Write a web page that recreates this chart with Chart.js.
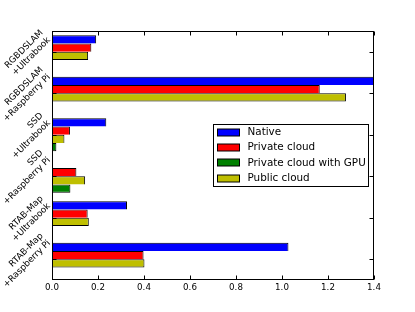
<!DOCTYPE html>
<html lang="en">
<head>
    <meta charset="UTF-8">
    <title>Runtime comparison</title>
    <style>
        body {
            margin: 0;
            background: #fff;
        }
        canvas {
            display: block;
        }
    </style>
    <script src="https://cdn.jsdelivr.net/npm/chart.js"></script>
</head>
<body>
    <canvas id="barChart" width="415" height="312"></canvas>

    <script>
        // Categories, top to bottom
        const categories = [
            ['RGBDSLAM', '+Ultrabook'],
            ['RGBDSLAM', '+Raspberry Pi'],
            ['SSD', '+Ultrabook'],
            ['SSD', '+Raspberry Pi'],
            ['RTAB-Map', '+Ultrabook'],
            ['RTAB-Map', '+Raspberry Pi']
        ];

        // Values (null = no bar)
        const nativeValues = [0.192, 1.45, 0.236, null, 0.326, 1.028];
        const privateValues = [0.171, 1.164, 0.078, 0.106, 0.155, 0.398];
        const publicValues = [0.157, 1.278, 0.054, 0.144, 0.16, 0.402];
        const gpuValues = [null, null, 0.019, 0.08, null, null];

        const xTicks = [0, 0.2, 0.4, 0.6, 0.8, 1.0, 1.2, 1.4];

        // bars are stacked in this order inside each group, legend uses another order
        const seriesNames = ['Native', 'Private cloud', 'Public cloud', 'Private cloud with GPU'];
        const seriesColors = ['#0000ff', '#ff0000', '#bfbf00', '#008000'];
        const seriesValues = [nativeValues, privateValues, publicValues, gpuValues];
        const legendOrder = ['Native', 'Private cloud', 'Private cloud with GPU', 'Public cloud'];

        const TICK_SIZE = 8.7;
        const YLABEL_SIZE = 8.8;
        const LEGEND_FONT = '10.4px "DejaVu Sans"';

        // only draw a bottom edge when nothing sits right under the bar
        function borderFor(ctx) {
            const next = seriesValues[ctx.datasetIndex + 1];
            const open = !next || next[ctx.dataIndex] === null;
            return { top: 1, left: 1, right: 1, bottom: open ? 1 : 0 };
        }

        const datasets = seriesNames.map((name, i) => ({
            label: name,
            data: seriesValues[i],
            backgroundColor: seriesColors[i],
            borderColor: '#000',
            borderWidth: borderFor,
            borderSkipped: false,
            barPercentage: 1.0,
            categoryPercentage: 0.8
        }));

        // frame + inward ticks like matplotlib
        const framePlugin = {
            id: 'frame',
            afterDatasetsDraw(chart) {
                const ctx = chart.ctx;
                const a = chart.chartArea;
                const xs = chart.scales.x;
                const ys = chart.scales.y;
                const L = Math.round(a.left) + 0.5, R = Math.round(a.right) - 0.5;
                const T = Math.round(a.top) + 0.5, B = Math.round(a.bottom) - 0.5;
                ctx.save();
                ctx.strokeStyle = '#000';
                ctx.lineWidth = 1;
                ctx.beginPath();
                xTicks.forEach(v => {
                    const x = Math.round(xs.getPixelForValue(v)) + 0.5;
                    ctx.moveTo(x, T); ctx.lineTo(x, T + 4);
                    ctx.moveTo(x, B); ctx.lineTo(x, B - 4);
                });
                categories.forEach((c, i) => {
                    const y = Math.round(ys.getPixelForTick(i)) + 0.5;
                    ctx.moveTo(L, y); ctx.lineTo(L + 4, y);
                    ctx.moveTo(R, y); ctx.lineTo(R - 4, y);
                });
                ctx.stroke();
                ctx.strokeRect(L, T, R - L, B - T);
                ctx.restore();
            }
        };

        // rotated two-line category labels: text block is rotated 45deg, then its
        // bounding box is put right against the axis and centred on the tick
        const yLabelPlugin = {
            id: 'yLabels',
            afterDraw(chart) {
                const ctx = chart.ctx;
                const a = chart.chartArea;
                const ys = chart.scales.y;
                const asc = 0.76 * YLABEL_SIZE, desc = 0.22 * YLABEL_SIZE, pitch = 10.3;
                const c = Math.SQRT1_2, pad = 0, shift = 1;
                ctx.save();
                ctx.font = YLABEL_SIZE + 'px "DejaVu Sans"';
                ctx.fillStyle = '#000';
                chart.data.labels.forEach((lines, i) => {
                    const W = Math.max(...lines.map(s => ctx.measureText(s).width));
                    const H = asc + (lines.length - 1) * pitch + desc;
                    // block top-right corner
                    const ox = a.left - pad - c * H;
                    const oy = ys.getPixelForTick(i) - c * (W + H) / 2 + shift;
                    ctx.save();
                    ctx.translate(ox, oy);
                    ctx.rotate(-Math.PI / 4);
                    ctx.textAlign = 'right';
                    ctx.textBaseline = 'alphabetic';
                    lines.forEach((s, k) => ctx.fillText(s, 0, asc + k * pitch));
                    ctx.restore();
                });
                ctx.restore();
            }
        };

        // legend box inside the plot
        const legendPlugin = {
            id: 'boxLegend',
            afterDraw(chart) {
                const ctx = chart.ctx;
                const a = chart.chartArea;
                const bx = Math.round(a.right - 161) + 0.5;
                const by = Math.round(a.top + 93) + 0.5;
                const bw = 155, bh = 62;
                ctx.save();
                ctx.fillStyle = '#fff';
                ctx.fillRect(bx, by, bw, bh);
                ctx.strokeStyle = '#000';
                ctx.lineWidth = 1;
                ctx.strokeRect(bx, by, bw, bh);
                ctx.font = LEGEND_FONT;
                ctx.textBaseline = 'middle';
                ctx.textAlign = 'left';
                legendOrder.forEach((name, k) => {
                    const ds = chart.data.datasets.find(d => d.label === name);
                    const cy = by + 8 + k * 15.2;
                    ctx.fillStyle = ds.backgroundColor;
                    ctx.fillRect(bx + 4, Math.round(cy - 3.5), 22, 7);
                    ctx.strokeRect(bx + 4, Math.round(cy - 3.5), 22, 7);
                    ctx.fillStyle = '#000';
                    ctx.fillText(name, bx + 34, cy);
                });
                ctx.restore();
            }
        };

        new Chart(document.getElementById('barChart').getContext('2d'), {
            type: 'bar',
            data: {
                labels: categories,
                datasets: datasets
            },
            options: {
                indexAxis: 'y',
                responsive: false,
                animation: false,
                devicePixelRatio: 1,
                layout: {
                    padding: { top: 31, right: 41, bottom: 0, left: 0 }
                },
                scales: {
                    x: {
                        type: 'linear',
                        min: 0,
                        max: 1.4,
                        afterBuildTicks: scale => {
                            scale.ticks = xTicks.map(v => ({ value: v }));
                        },
                        afterFit: scale => { scale.height = 32; },
                        grid: { display: false, drawTicks: false },
                        border: { display: false },
                        ticks: {
                            color: '#000',
                            font: { family: 'DejaVu Sans', size: TICK_SIZE },
                            padding: 2.5,
                            maxRotation: 0,
                            callback: value => value.toFixed(1)
                        }
                    },
                    y: {
                        type: 'category',
                        offset: true,
                        afterFit: scale => { scale.width = 52; },
                        grid: { display: false, drawTicks: false },
                        border: { display: false },
                        ticks: { display: false }
                    }
                },
                plugins: {
                    legend: { display: false },
                    tooltip: { enabled: false }
                }
            },
            plugins: [framePlugin, yLabelPlugin, legendPlugin]
        });
    </script>
</body>
</html>
